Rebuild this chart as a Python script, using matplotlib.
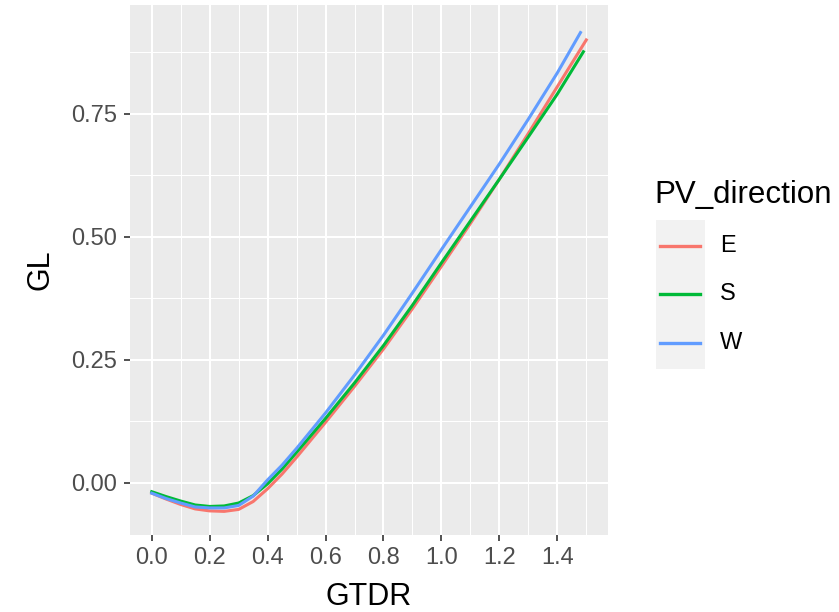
import matplotlib
matplotlib.use('Agg')
import matplotlib.pyplot as plt
from matplotlib.lines import Line2D
from matplotlib.patches import Rectangle

plt.rcParams['font.family'] = ['Liberation Sans', 'DejaVu Sans']

# GTDR values (x) and GL per PV direction
gtdr_e = [0.0, 0.05, 0.1, 0.15, 0.2, 0.25, 0.3, 0.35, 0.4, 0.45, 0.5, 0.6, 0.7, 0.8, 0.9, 1.0,
          1.1, 1.2, 1.3, 1.4, 1.5]
gl_e = [-0.021, -0.033, -0.044, -0.053, -0.057, -0.058, -0.054, -0.038, -0.012, 0.018, 0.052,
        0.123, 0.196, 0.272, 0.354, 0.440, 0.527, 0.617, 0.710, 0.805, 0.900]

gtdr_s = [0.0, 0.05, 0.1, 0.15, 0.2, 0.25, 0.3, 0.35, 0.4, 0.45, 0.5, 0.6, 0.7, 0.8, 0.9, 1.0,
          1.1, 1.2, 1.3, 1.4, 1.49]
gl_s = [-0.018, -0.028, -0.037, -0.045, -0.048, -0.047, -0.041, -0.026, -0.002, 0.028, 0.062,
        0.131, 0.203, 0.279, 0.361, 0.447, 0.532, 0.617, 0.703, 0.790, 0.876]

gtdr_w = [0.0, 0.05, 0.1, 0.15, 0.2, 0.25, 0.3, 0.35, 0.4, 0.45, 0.5, 0.6, 0.7, 0.8, 0.9, 1.0,
          1.1, 1.2, 1.3, 1.4, 1.48]
gl_w = [-0.021, -0.032, -0.041, -0.049, -0.051, -0.051, -0.046, -0.027, 0.006, 0.036, 0.070,
        0.142, 0.219, 0.300, 0.386, 0.474, 0.561, 0.648, 0.739, 0.833, 0.915]

directions = ['E', 'S', 'W']
colores = ['#F8766D', '#00BA38', '#619CFF']

x_ticks = [0.0, 0.2, 0.4, 0.6, 0.8, 1.0, 1.2, 1.4]
y_ticks = [0.0, 0.25, 0.5, 0.75]

W, H = 839, 612
fig = plt.figure(figsize=(W / 100, H / 100), dpi=100)


def px(x, y):
    # pixel position -> figure fraction
    return x / W, 1 - y / H


l, t = px(130, 5)
r, b = px(608, 535)
ax = fig.add_axes([l, b, r - l, t - b])
ax.set_facecolor('#EBEBEB')
for s in ax.spines.values():
    s.set_visible(False)

ax.set_xlim(-0.075, 1.575)
ax.set_ylim(-0.106, 0.971)

# rejilla estilo ggplot
ax.set_xticks(x_ticks)
ax.set_yticks(y_ticks)
ax.set_xticks([0.1, 0.3, 0.5, 0.7, 0.9, 1.1, 1.3, 1.5], minor=True)
ax.set_yticks([0.125, 0.375, 0.625, 0.875], minor=True)
ax.grid(which='major', color='white', linewidth=1.5)
ax.grid(which='minor', color='white', linewidth=0.75)
ax.set_axisbelow(True)
ax.tick_params(which='minor', length=0)
ax.tick_params(which='major', length=4, width=1.2, color='#333333',
               labelsize=17, labelcolor='#4D4D4D', pad=5)
ax.set_xticklabels(['%.1f' % v for v in x_ticks])
ax.set_yticklabels(['%.2f' % v for v in y_ticks])

series = [(gtdr_e, gl_e), (gtdr_s, gl_s), (gtdr_w, gl_w)]
for (xs, ys), c in zip(series, colores):
    ax.plot(xs, ys, color=c, linewidth=2.2, solid_joinstyle='round')

# titulos de ejes
fig.text(*px(369, 597), 'GTDR', ha='center', va='center', fontsize=22)
fig.text(*px(40, 270), 'GL', ha='center', va='center', fontsize=22, rotation=90)

# leyenda manual
fig.text(*px(654, 195), 'PV_direction', ha='left', va='center', fontsize=22.5)
x0, y0 = px(656, 369)
x1, y1 = px(705, 220)
fig.patches.append(Rectangle((x0, y0), x1 - x0, y1 - y0, transform=fig.transFigure,
                             facecolor='#F2F2F2', edgecolor='none'))
for name, c, yy in zip(directions, colores, [246, 294, 343]):
    fx0, fy = px(660, yy)
    fx1, _ = px(700, yy)
    fig.lines.append(Line2D([fx0, fx1], [fy, fy], transform=fig.transFigure,
                            color=c, linewidth=2.4))
    fig.text(*px(720, yy), name, ha='left', va='center', fontsize=17)

fig.savefig('out.png', dpi=100)
